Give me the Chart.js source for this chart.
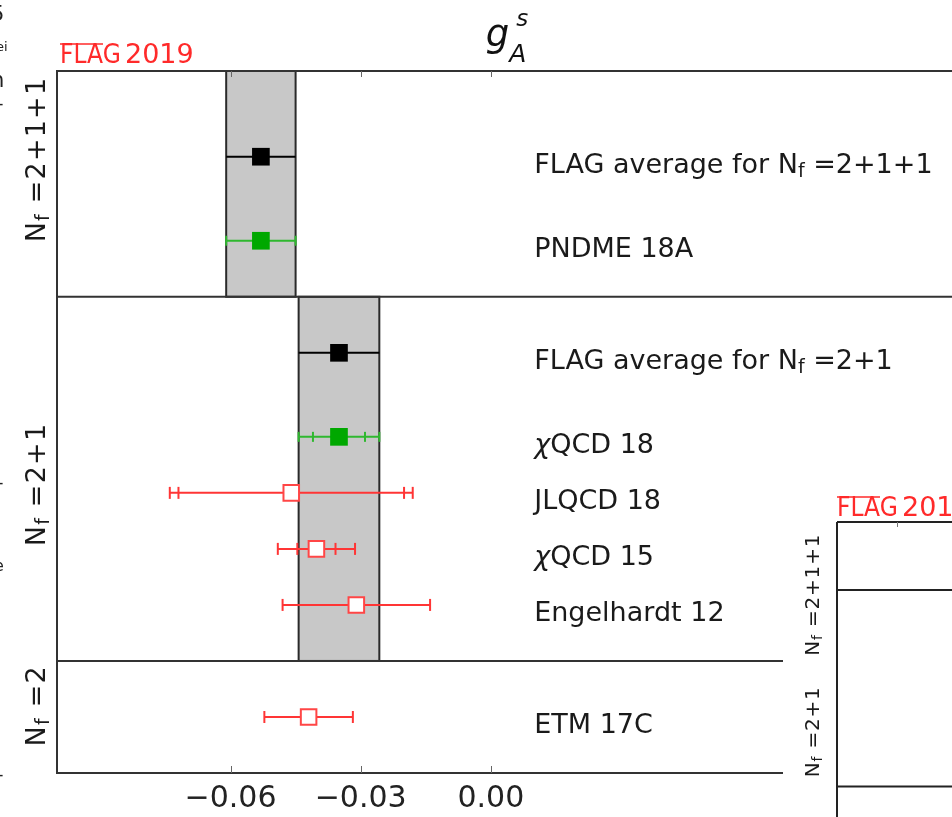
<!DOCTYPE html>
<html>
<head>
<meta charset="utf-8">
<script src="https://cdn.jsdelivr.net/npm/chart.js@4.4.1/dist/chart.umd.min.js"></script>
<style>
    html, body { margin: 0; padding: 0; background: #fff; width: 952px; height: 817px; overflow: hidden; position: relative; }
    #principal { position: absolute; left: 0; top: 0; }
    #recuadro { position: absolute; left: 783px; top: 480px; z-index: 2; }
    .borde { position: absolute; font-family: "DejaVu Sans"; color: #222; white-space: nowrap; line-height: 1; }
</style>
</head>
<body>
<canvas id="principal" width="1000" height="817"></canvas>
<canvas id="recuadro" width="400" height="400"></canvas>
<!-- restos de la figura vecina, cortados por el borde -->
<span class="borde" style="left:-9px; top:4px; font-size:21px;">5</span>
<span class="borde" style="left:-4px; top:40px; font-size:13px;">ei</span>
<span class="borde" style="left:-9px; top:70px; font-size:21px;">n</span>
<span class="borde" style="left:-3px; top:94px; font-size:18px;">-</span>
<span class="borde" style="left:-3px; top:473px; font-size:18px;">-</span>
<span class="borde" style="left:-6px; top:558px; font-size:16px;">e</span>
<span class="borde" style="left:-3px; top:765px; font-size:18px;">-</span>

<script>
// Resultados de g_A^s, una entrada por fila (de arriba hacia abajo)
const etiquetas = ['FLAG average for N_f =2+1+1', 'PNDME 18A', 'FLAG average for N_f =2+1', 'χQCD 18', 'JLQCD 18', 'χQCD 15', 'Engelhardt 12', 'ETM 17C'];
const filas = [11, 9.5, 7.5, 6, 5, 4, 3, 1];
const valores = [-0.053, -0.053, -0.035, -0.035, -0.046, -0.0402, -0.031, -0.042];
const errTotal = [0.008, 0.008, 0.0093, 0.0093, 0.028, 0.0089, 0.017, 0.0102];
const errEstad = [null, null, null, 0.006, 0.026, 0.0044, null, null];
const tipos = ['promedio', 'verde', 'promedio', 'verde', 'rojo', 'rojo', 'rojo', 'rojo'];

// Bandas del promedio FLAG por grupo
const bandaValor = [-0.053, -0.035];
const bandaError = [0.008, 0.0093];
const bandaDesde = [8.5, 2];
const bandaHasta = [12.53, 8.5];

// Grupos de N_f en el eje vertical
const grupos = ['N_f =2+1+1', 'N_f =2+1', 'N_f =2'];
const grupoCentro = [10.95, 5.15, 1.2];
const separadores = [8.5, 2];

const ticksX = [-0.06, -0.03, 0.00];
const xEtiquetas = 0.01;

// Figura de al lado (sólo marco y grupos)
const gruposRecuadro = ['N_f =2+1+1', 'N_f =2+1'];
const grupoCentroRecuadro = [2.6, 7.5];
const separadoresRecuadro = [2.43, 9.46];
const ticksRecuadro = [-0.06];

const FUENTE = '"DejaVu Sans"';
const colores = {
    promedio: { linea: '#000000', relleno: '#000000', borde: '#000000' },
    verde: { linea: '#2fb82f', relleno: '#00a800', borde: '#00a800' },
    rojo: { linea: '#ff3535', relleno: '#ffffff', borde: '#ff4646' }
};

function partes(texto) {
    // separa el subíndice (_f) y la chi en cursiva
    const res = [];
    let buf = '';
    for (let i = 0; i < texto.length; i++) {
        const c = texto[i];
        if (c === '_') {
            if (buf) res.push({ t: buf });
            buf = '';
            res.push({ t: texto[i + 1], sub: true });
            i++;
        } else if (c === 'χ') {
            if (buf) res.push({ t: buf });
            buf = '';
            res.push({ t: c, it: true });
        } else {
            buf += c;
        }
    }
    if (buf) res.push({ t: buf });
    return res;
}

function dibujarTexto(ctx, texto, x, y, tam, color, centrado, espacio) {
    const ps = partes(texto);
    const fuente = p => `${p.it ? 'italic ' : ''}${p.sub ? Math.round(tam * 0.7) : tam}px ${FUENTE}`;
    ctx.letterSpacing = (espacio || 0) + 'px';
    let ancho = 0;
    ps.forEach(p => { ctx.font = fuente(p); p.w = ctx.measureText(p.t).width; ancho += p.w; });
    let cx = centrado ? x - ancho / 2 : x;
    ctx.fillStyle = color;
    ctx.textAlign = 'left';
    ctx.textBaseline = 'alphabetic';
    ps.forEach(p => {
        ctx.font = fuente(p);
        ctx.fillText(p.t, cx, p.sub ? y + tam * 0.16 : y);
        cx += p.w;
    });
    ctx.letterSpacing = '0px';
}

function dibujarLogo(ctx, x, base) {
    ctx.save();
    ctx.fillStyle = '#ff2a2a';
    ctx.textAlign = 'left';
    ctx.textBaseline = 'alphabetic';
    ctx.font = `26px ${FUENTE}`;
    ctx.save();
    ctx.translate(x, base);
    ctx.scale(0.9, 1);
    ctx.fillText('FLAG', 0, 0);
    ctx.restore();
    ctx.font = `27px ${FUENTE}`;
    ctx.fillText('2019', x + 65, base);
    ctx.strokeStyle = '#ff2a2a';
    ctx.lineWidth = 1.5;
    ctx.beginPath();
    ctx.moveTo(x, base - 19);
    ctx.lineTo(x + 43, base - 19);
    ctx.stroke();
    ctx.restore();
}

function linea(ctx, x1, y1, x2, y2) {
    ctx.beginPath();
    ctx.moveTo(x1, y1);
    ctx.lineTo(x2, y2);
    ctx.stroke();
}

// Bandas, separadores y barras de error debajo de los marcadores
const pluginFondo = {
    id: 'fondo',
    beforeDatasetsDraw(chart) {
        const { ctx, chartArea: a, scales: { x, y } } = chart;
        ctx.save();
        bandaValor.forEach((v, i) => {
            const x1 = x.getPixelForValue(v - bandaError[i]);
            const x2 = x.getPixelForValue(v + bandaError[i]);
            const y1 = y.getPixelForValue(bandaHasta[i]);
            const y2 = y.getPixelForValue(bandaDesde[i]);
            ctx.fillStyle = '#c8c8c8';
            ctx.fillRect(x1, y1, x2 - x1, y2 - y1);
            ctx.strokeStyle = '#2a2a2a';
            ctx.lineWidth = 2;
            ctx.strokeRect(x1, y1, x2 - x1, y2 - y1);
        });
        ctx.strokeStyle = '#333';
        ctx.lineWidth = 2;
        separadores.forEach(s => {
            const py = y.getPixelForValue(s);
            linea(ctx, a.left, py, a.right, py);
        });
        valores.forEach((v, i) => {
            const col = colores[tipos[i]];
            const py = y.getPixelForValue(filas[i]);
            ctx.strokeStyle = col.linea;
            ctx.lineWidth = 2;
            linea(ctx, x.getPixelForValue(v - errTotal[i]), py, x.getPixelForValue(v + errTotal[i]), py);
            if (tipos[i] === 'promedio') return;
            const alto = tipos[i] === 'verde' ? 5 : 6;
            const extremos = [v - errTotal[i], v + errTotal[i]];
            if (errEstad[i] !== null) extremos.push(v - errEstad[i], v + errEstad[i]);
            extremos.forEach(e => {
                const px = x.getPixelForValue(e);
                linea(ctx, px, py - alto, px, py + alto);
            });
        });
        ctx.restore();
    },
    afterDraw(chart) {
        const { ctx, chartArea: a, scales: { x, y } } = chart;
        ctx.save();
        // marco
        ctx.strokeStyle = '#333';
        ctx.lineWidth = 2;
        ctx.strokeRect(a.left, a.top, a.right - a.left, a.bottom - a.top);
        // marcas hacia adentro
        ctx.strokeStyle = '#666';
        ctx.lineWidth = 1;
        ticksX.forEach(t => {
            const px = Math.round(x.getPixelForValue(t)) + 0.5;
            linea(ctx, px, a.bottom, px, a.bottom - 7);
            linea(ctx, px, a.top, px, a.top + 6);
        });
        // nombres de cada resultado
        const lx = x.getPixelForValue(xEtiquetas);
        etiquetas.forEach((t, i) => {
            dibujarTexto(ctx, t, lx, y.getPixelForValue(filas[i]) + 16, 27, '#1a1a1a', false, 0);
        });
        // grupos de N_f, girados
        grupos.forEach((g, i) => {
            ctx.save();
            ctx.translate(45, y.getPixelForValue(grupoCentro[i]));
            ctx.rotate(-Math.PI / 2);
            dibujarTexto(ctx, g, 0, 0, 27, '#1a1a1a', true, 1.2);
            ctx.restore();
        });
        // titulo g_A^s
        const cx = (a.left + a.right) / 2;
        ctx.fillStyle = '#111';
        ctx.textAlign = 'left';
        ctx.textBaseline = 'alphabetic';
        ctx.font = `italic 37px ${FUENTE}`;
        const wg = ctx.measureText('g').width;
        ctx.font = `italic 25px ${FUENTE}`;
        const wa = ctx.measureText('A').width;
        const x0 = cx - (wg + wa) / 2;
        ctx.font = `italic 37px ${FUENTE}`;
        ctx.fillText('g', x0, 46);
        ctx.font = `italic 25px ${FUENTE}`;
        ctx.fillText('A', x0 + wg, 62);
        ctx.font = `italic 23px ${FUENTE}`;
        ctx.fillText('s', x0 + wg + 7, 26);
        dibujarLogo(ctx, a.left + 3, 63);
        ctx.restore();
    }
};

const conjuntos = ['promedio', 'verde', 'rojo'].map(tipo => ({
    label: tipo,
    data: valores.map((v, i) => ({ x: v, y: filas[i] })).filter((p, i) => tipos[i] === tipo),
    pointStyle: 'rect',
    pointRadius: tipo === 'rojo' ? 11 : 12.5,
    pointHoverRadius: tipo === 'rojo' ? 11 : 12.5,
    borderWidth: tipo === 'rojo' ? 2 : 0,
    backgroundColor: colores[tipo].relleno,
    borderColor: colores[tipo].borde,
    showLine: false
}));

new Chart(document.getElementById('principal'), {
    type: 'scatter',
    data: { datasets: conjuntos },
    options: {
        responsive: false,
        animation: false,
        devicePixelRatio: 1,
        layout: { padding: { left: 57, top: 71, right: 45, bottom: 0 } },
        plugins: { legend: { display: false }, tooltip: { enabled: false } },
        scales: {
            x: {
                type: 'linear',
                min: -0.1,
                max: 0.107,
                border: { display: false },
                grid: { display: false, drawTicks: false },
                afterBuildTicks: s => { s.ticks = ticksX.map(v => ({ value: v })); },
                afterFit: s => { s.height = 44; },
                ticks: {
                    autoSkip: false,
                    maxRotation: 0,
                    padding: 8,
                    color: '#222',
                    font: { family: 'DejaVu Sans', size: 30 },
                    callback: v => (v < 0 ? '\u2212' : '') + Math.abs(v).toFixed(2)
                }
            },
            y: { type: 'linear', min: 0, max: 12.53, display: false }
        }
    },
    plugins: [pluginFondo]
});

// Figura de al lado, tapando la esquina inferior derecha
const pluginRecuadro = {
    id: 'recuadro',
    beforeDraw(chart) {
        const { ctx, width, height } = chart;
        ctx.save();
        ctx.fillStyle = '#fff';
        ctx.fillRect(0, 0, width, height);
        ctx.restore();
    },
    afterDraw(chart) {
        const { ctx, chartArea: a, scales: { x, y } } = chart;
        ctx.save();
        ctx.strokeStyle = '#222';
        ctx.lineWidth = 2;
        linea(ctx, a.left, a.top, a.right, a.top);
        linea(ctx, a.left, a.top, a.left, a.bottom);
        separadoresRecuadro.forEach(s => {
            const py = y.getPixelForValue(s);
            linea(ctx, a.left, py, a.right, py);
        });
        ctx.strokeStyle = '#777';
        ctx.lineWidth = 1;
        ticksRecuadro.forEach(t => {
            const px = Math.round(x.getPixelForValue(t)) + 0.5;
            linea(ctx, px, a.top, px, a.top + 5);
        });
        gruposRecuadro.forEach((g, i) => {
            ctx.save();
            ctx.translate(36, y.getPixelForValue(grupoCentroRecuadro[i]));
            ctx.rotate(-Math.PI / 2);
            dibujarTexto(ctx, g, 0, 0, 20, '#1a1a1a', true, 0.8);
            ctx.restore();
        });
        dibujarLogo(ctx, a.left, 36);
        ctx.restore();
    }
};

new Chart(document.getElementById('recuadro'), {
    type: 'scatter',
    data: { datasets: [] },
    options: {
        responsive: false,
        animation: false,
        devicePixelRatio: 1,
        layout: { padding: { left: 54, top: 42, right: 0, bottom: 0 } },
        plugins: { legend: { display: false }, tooltip: { enabled: false } },
        scales: {
            x: { type: 'linear', min: -0.08, max: 0.0353, display: false },
            y: { type: 'linear', min: 0, max: 12.8, reverse: true, display: false }
        }
    },
    plugins: [pluginRecuadro]
});
</script>
</body>
</html>
